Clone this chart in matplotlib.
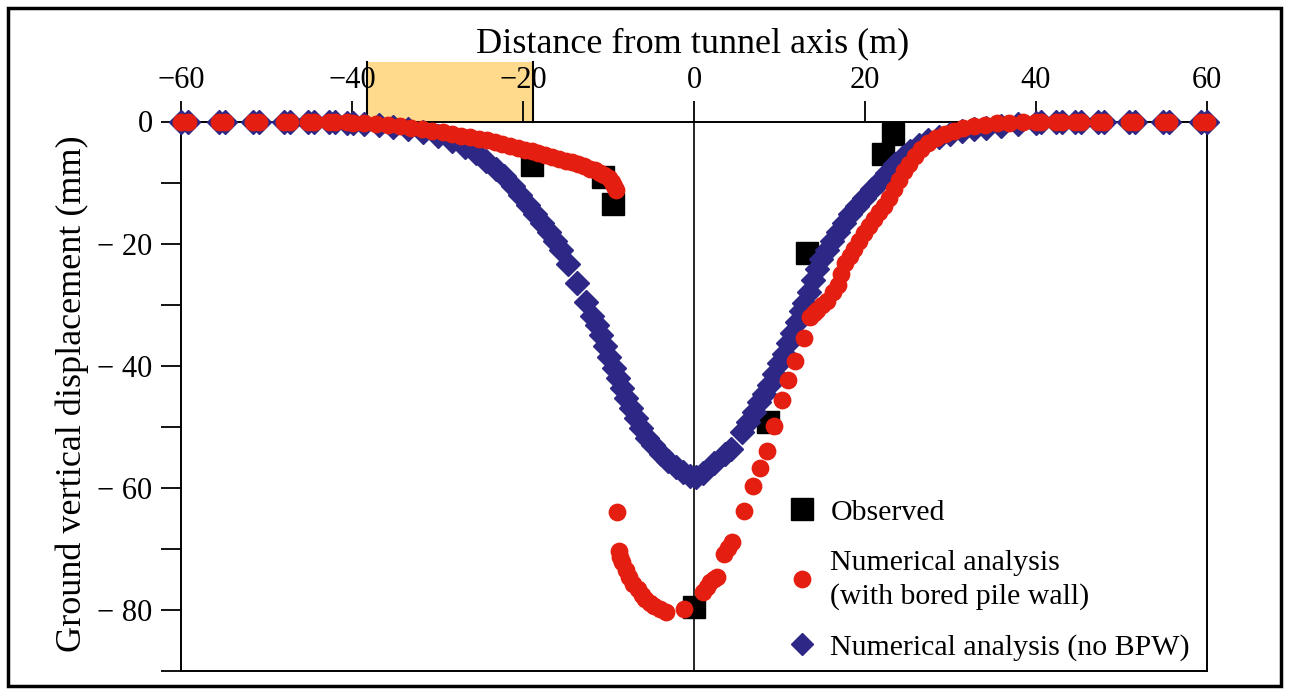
import matplotlib
matplotlib.use("Agg")
import matplotlib.pyplot as plt
from matplotlib.patches import Rectangle
from matplotlib.lines import Line2D

plt.rcParams["font.family"] = ["Liberation Serif", "DejaVu Serif"]

# Observed settlements
obs_x = [-19.0, -10.7, -9.5, 0.0, 8.6, 13.2, 22.1, 23.3]
obs_y = [-7.2, -9.1, -13.5, -79.5, -49.2, -21.6, -5.3, -2.1]

# Numerical analysis, with bored pile wall
bpw_x = [-60.0, -59.2, -55.6, -54.9, -51.6, -50.9, -48.0, -47.3, -45.1, -44.4,
         -42.7, -42.0, -40.6, -39.9, -38.6, -37.2, -35.8, -34.4, -33.1, -31.8,
         -30.6, -29.4, -28.3, -27.2, -26.2, -25.2, -24.2, -23.3, -22.4, -21.5,
         -20.6, -19.8, -19.0, -18.2, -17.4, -16.6, -15.8, -15.0, -14.3, -13.6,
         -12.9, -12.2, -11.6, -11.0, -10.5, -10.0, -9.6, -9.3, -9.1,
         -9.0, -8.8, -8.6, -8.4, -8.0, -7.6, -7.1, -6.6, -6.1, -5.7, -5.2,
         -4.7, -4.0, -3.3, -1.2, 1.1, 1.5, 1.9, 2.3, 2.7, 3.5, 4.0, 4.5,
         5.8, 6.9, 7.7, 8.5, 9.3, 10.3, 11.0, 11.8, 12.9, 13.6, 14.0, 14.4,
         15.0, 15.6, 16.2, 16.8, 17.2, 17.7, 18.2, 18.7, 19.3, 19.9, 20.5,
         21.0, 21.6, 22.2, 22.8, 23.4, 24.0, 24.6, 25.2, 25.8, 26.6, 27.4,
         28.3, 29.3, 30.4, 31.5, 32.7, 34.0, 35.4, 36.9, 38.5, 40.0, 40.6,
         42.3, 43.0, 44.6, 45.3, 47.3, 48.0, 50.9, 51.6, 54.9, 55.6, 59.3, 60.0]
bpw_y = [0.0, 0.0, 0.0, 0.0, 0.0, 0.0, 0.0, 0.0, 0.0, 0.0,
         -0.1, -0.1, -0.1, -0.2, -0.3, -0.4, -0.6, -0.8, -1.0, -1.2,
         -1.5, -1.7, -2.0, -2.3, -2.5, -2.8, -3.1, -3.4, -3.7, -4.0,
         -4.3, -4.6, -4.9, -5.2, -5.5, -5.8, -6.1, -6.4, -6.7, -7.0,
         -7.3, -7.7, -8.0, -8.4, -8.8, -9.3, -9.9, -10.6, -11.3,
         -64.0, -70.3, -71.3, -72.2, -73.5, -74.6, -75.7, -76.6, -77.5, -78.2, -78.8,
         -79.3, -79.9, -80.4, -79.8, -77.1, -76.3, -75.5, -75.0, -74.6, -70.8, -69.8, -68.9,
         -63.8, -59.7, -56.8, -53.9, -49.8, -45.6, -42.4, -39.2, -35.4, -32.1, -31.4, -30.8,
         -30.1, -29.4, -28.0, -26.7, -25.0, -23.1, -22.0, -20.9, -19.5, -18.2, -17.1,
         -16.0, -14.9, -13.9, -12.5, -11.1, -9.5, -8.1, -6.9, -5.7, -4.5, -3.5,
         -2.7, -2.0, -1.5, -1.0, -0.7, -0.5, -0.3, -0.2, -0.1, 0.0, 0.0,
         0.0, 0.0, 0.0, 0.0, 0.0, 0.0, 0.0, 0.0, 0.0, 0.0, 0.0, 0.0]

# Numerical analysis, no bored pile wall
nobpw_x = [-60.0, -59.2, -55.6, -54.9, -51.6, -50.9, -48.0, -47.3, -45.1, -44.4,
           -42.7, -42.0, -40.6, -39.9, -38.6, -36.9, -35.2, -33.4, -31.7, -30.0,
           -28.3, -26.8, -25.5, -24.3, -23.2, -22.2, -21.2, -20.3, -19.4, -18.6,
           -17.8, -17.0, -16.2, -15.5, -14.7, -13.7, -12.6, -11.9, -11.4, -10.9,
           -10.4, -9.9, -9.4, -8.9, -8.4, -7.9, -7.4, -6.8, -6.2, -5.5, -4.8,
           -3.9, -3.0, -2.1, -1.3, -0.5, 0.2, 1.1, 2.3, 3.6, 4.3, 5.6, 6.3,
           7.0, 7.6, 8.2, 8.8, 9.3, 9.9, 10.5, 11.0, 11.5, 12.0, 12.5, 12.9,
           13.4, 13.9, 14.4, 14.9, 15.5, 16.1, 16.8, 17.5, 18.3, 19.1, 19.9,
           20.8, 21.7, 22.6, 23.5, 24.4, 25.3, 26.3, 27.4, 28.6, 29.9, 31.3,
           32.7, 34.2, 35.9, 37.9, 40.0, 40.6, 42.3, 43.0, 44.6, 45.3, 47.3,
           48.0, 50.9, 51.6, 54.9, 55.6, 59.3, 60.0]
nobpw_y = [0.0, 0.0, 0.0, 0.0, 0.0, 0.0, 0.0, 0.0, 0.0, 0.0,
           -0.1, -0.1, -0.2, -0.3, -0.4, -0.6, -0.9, -1.3, -1.8, -2.4,
           -3.2, -4.1, -5.1, -6.4, -7.7, -9.0, -10.6, -12.0, -13.6, -15.1,
           -16.6, -18.1, -19.6, -21.0, -23.3, -26.4, -29.6, -31.8, -33.4, -35.0,
           -36.8, -38.6, -40.4, -42.0, -43.7, -45.3, -47.0, -48.6, -50.2, -51.8, -53.0,
           -54.5, -55.6, -56.6, -57.4, -58.0, -58.2, -57.5, -56.0, -54.5, -53.6, -50.8, -49.2,
           -47.6, -46.0, -44.6, -43.2, -41.4, -39.6, -38.0, -36.2, -34.6, -32.8, -31.0, -29.8,
           -28.0, -26.0, -24.2, -22.6, -21.0, -19.6, -18.1, -16.6, -15.1, -13.8, -12.5,
           -11.0, -9.7, -8.4, -7.0, -5.8, -4.8, -3.9, -3.1, -2.5, -2.0, -1.6,
           -1.3, -1.0, -0.7, -0.4, -0.2, -0.1, 0.0, 0.0, 0.0, 0.0, 0.0,
           0.0, 0.0, 0.0, 0.0, 0.0, 0.0, 0.0]

# Extent of the bored pile wall zone marked above the ground line
wall_left, wall_right = -38.2, -18.8

RED = "#E41E10"
NAVY = "#2D2886"
TAN = "#FFD98C"

fig = plt.figure(figsize=(12.89, 6.93), dpi=100)
W, H = 1289.0, 693.0
ax = fig.add_axes([181 / W, 1 - 671 / H, (1207 - 181) / W, (671 - 121.5) / H])

ax.set_xlim(-60, 60)
ax.set_ylim(-90, 0)

# bored pile wall zone drawn above the plot frame
ax.add_patch(Rectangle((wall_left, 0), wall_right - wall_left, 9.7,
                       facecolor=TAN, edgecolor="none", clip_on=False, zorder=0.5))
for xe in (wall_left, wall_right):
    ax.plot([xe, xe], [0, 9.7], color="black", lw=1.5, clip_on=False, zorder=0.6)

ax.axvline(0, color="black", lw=1.2, zorder=1)

ax.plot(obs_x, obs_y, ls="none", marker="s", ms=15.5, color="black", zorder=3, clip_on=False)
ax.plot(nobpw_x, nobpw_y, ls="none", marker="D", ms=11.8, color=NAVY, mec=NAVY,
        zorder=4, clip_on=False)
ax.plot(bpw_x, bpw_y, ls="none", marker="o", ms=11.8, color=RED, mec=RED,
        zorder=5, clip_on=False)

for s in ax.spines.values():
    s.set_linewidth(1.4)
    s.set_zorder(2)

ax.xaxis.tick_top()
ax.set_xticks(range(-60, 61, 20))
ax.set_xticklabels([str(v).replace("-", "\u2212") for v in range(-60, 61, 20)])
ax.set_yticks(range(-80, 1, 20))
ax.set_yticklabels([str(v).replace("-", "\u2212 ") for v in range(-80, 1, 20)])
ax.set_yticks(range(-90, 0, 20), minor=True)
ax.tick_params(axis="x", which="both", direction="out", length=15, width=1.3,
               labelsize=22, pad=4, top=True, bottom=False)
ax.tick_params(axis="y", which="both", direction="out", length=14.5, width=1.3,
               labelsize=22, pad=6)

fig.text(693 / W, 1 - 44 / H, "Distance from tunnel axis (m)", ha="center",
         va="center", fontsize=26)
fig.text(72 / W, 1 - 394 / H, "Ground vertical displacement (mm)", ha="center",
         va="center", rotation=90, fontsize=26)

handles = [
    Line2D([], [], ls="none", marker="s", ms=15.5, color="black"),
    Line2D([], [], ls="none", marker="o", ms=11.8, color=RED),
    Line2D([], [], ls="none", marker="D", ms=11.5, color=NAVY),
]
labels = ["Observed", "Numerical analysis\n(with bored pile wall)",
          "Numerical analysis (no BPW)"]
leg = ax.legend(handles, labels, loc="lower left", bbox_to_anchor=(787 / W, 1 - 661 / H),
                bbox_transform=fig.transFigure, frameon=False, fontsize=21.5,
                handlelength=1.0, handletextpad=0.45, labelspacing=0.8, borderaxespad=0,
                borderpad=0)
for t in leg.get_texts():
    t.set_linespacing(1.35)

# outer frame round the whole figure
fig.patches.append(Rectangle((8 / W, 7 / H), (1281 - 8) / W, (686 - 8) / H,
                             transform=fig.transFigure, fill=False,
                             edgecolor="black", lw=2.5))

fig.savefig("out.png", dpi=100)
